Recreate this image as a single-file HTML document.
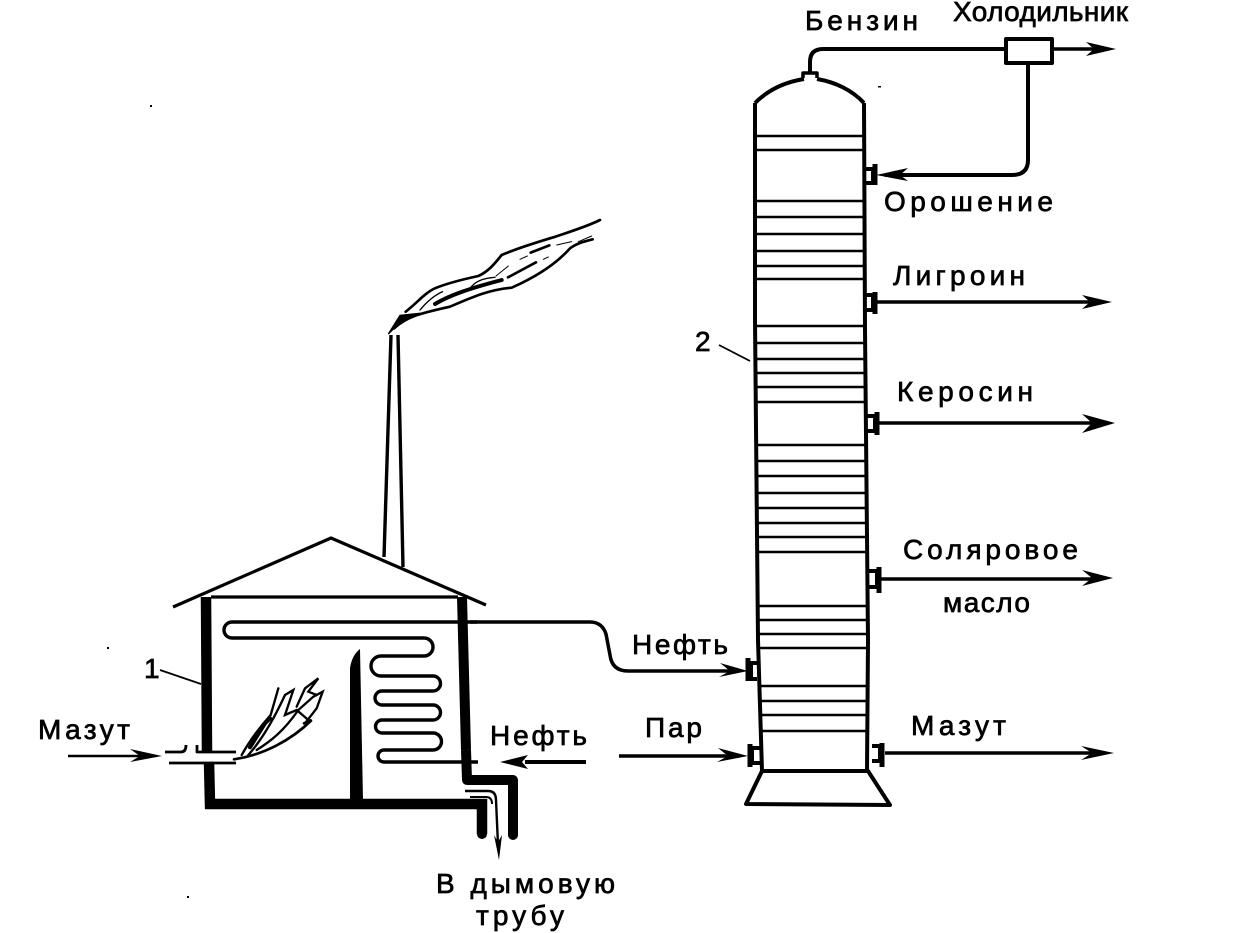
<!DOCTYPE html>
<html lang="ru"><head><meta charset="utf-8"><title>Схема перегонки нефти</title>
<style>
html,body{margin:0;padding:0;background:#fff}
svg{display:block}
text{font-family:"Liberation Sans","DejaVu Sans",sans-serif;font-size:28px;fill:#000;stroke:#000;stroke-width:.7px}
</style></head><body>
<svg width="1239" height="933" viewBox="0 0 1239 933" xmlns="http://www.w3.org/2000/svg">
<rect width="1239" height="933" fill="#fff"/>
<g fill="none" stroke="#000" stroke-linejoin="round">
<!-- Column -->
<path d="M755,103 L755,320 L758,640 L762,771" stroke-width="4"/>
<path d="M864,103 L865,330 L868,640 L867,771" stroke-width="4"/>
<path d="M755,103 C768,90 785,82 804,79 M817,79 C835,82 852,90 864,103" stroke-width="4"/>
<path d="M762,771 L746,804 L890,805 L868,771 Z" stroke-width="4"/>
<path d="M756,136H864M756,150H864M756,201H864M756,217H864M756,234H864M756,251H864M756,266H864M756,279H864M756,326H865M756,343H865M756,359H865M756,373H865M757,387H865M757,402H865M757,445H866M757,461H866M757,476H866M757,493H866M757,508H866M757,523H867M758,537H867M758,552H867M758,606H867M758,620H867M759,634H868M759,648H868M760,686H868M761,701H868M761,715H868M761,731H868" stroke-width="2.600"/>
<!-- Top pipe -->
<path d="M803,78V73H817V78" stroke-width="3.500"/>
<path d="M810,73V62Q810,49 823,49H1005" stroke-width="4"/>
<rect x="1006" y="39" width="46" height="24" stroke-width="4"/>
<path d="M1052,49H1100" stroke-width="3.500"/>
<path d="M1028,63V160Q1028,175 1012,175H885" stroke-width="4"/>
<!-- Outlets -->
<path d="M876,302H1095M878,423H1095M880,579H1095M885,753H1095" stroke-width="3.500"/>
<!-- Flanges -->
<path d="M865,169H873V183H865" stroke-width="4"/><path d="M875,164V185" stroke-width="5"/>
<path d="M866,295H873V310H866" stroke-width="4"/><path d="M875,292V314" stroke-width="5"/>
<path d="M867,416H875V431H867" stroke-width="4"/><path d="M877,412V435" stroke-width="5"/>
<path d="M869,571H877V587H869" stroke-width="4"/><path d="M879,567V593" stroke-width="5"/>
<path d="M872,746H880V761H872" stroke-width="4"/><path d="M882,743V767" stroke-width="5"/>
<path d="M757,663H751V679H757" stroke-width="4"/><path d="M748,658V681" stroke-width="5"/>
<path d="M761,748H752V763H761" stroke-width="4"/><path d="M750,744V767" stroke-width="5"/>
<!-- Inlet pipes -->
<path d="M470,622H590Q602,622 606,634L610,655Q612,671 628,671H735" stroke-width="3.500"/>
<path d="M619,756H735" stroke-width="3.500"/>
<path d="M68,756H140" stroke-width="2.600"/>
<path d="M586,762H525" stroke-width="4"/>
<!-- Leader lines -->
<path d="M719,345L750,361M160,670L201,684" stroke-width="1.800"/>
<!-- Furnace roof -->
<path d="M173,607L331,538L486,605" stroke-width="3.200"/>
<path d="M211,597H458" stroke-width="3.200"/>
<path d="M384,557L391,335M403,567L398,335" stroke-width="3.400"/>
<!-- Coil -->
<path d="M477,622H232A8,8 0 0 0 232,638H424A9,9 0 0 1 424,656H381A10,10 0 0 0 381,676H433A7.500,7.500 0 0 1 433,691H382A7,7 0 0 0 382,705H433A7.500,7.500 0 0 1 433,720H382A6.500,6.500 0 0 0 382,733H433A8.500,8.500 0 0 1 433,750H384A6,6 0 0 0 384,762H478" stroke-width="3.400"/>
<!-- Furnace walls -->
<path d="M206,597L207,752M209,762L210,804H482V834" stroke-width="10.500" stroke-linejoin="miter"/>
<path d="M462,597L466,750" stroke-width="10"/>
<path d="M466,750L467,780H513V835" stroke-width="10"/>
<!-- Flue arrow -->
<path d="M465,791H488Q496,791 496,800L498,845" stroke-width="2.400"/>
<path d="M470,797H486Q492,797 492,804" stroke-width="2"/>
<!-- Burner -->
<path d="M165,752H181Q186,752 186,745M197,745V752H236" stroke-width="2.800"/>
<path d="M169,763H236" stroke-width="2.800"/>
</g>
<!-- Wall gap for burner -->
<rect x="199" y="754" width="16" height="7" fill="#fff"/>
<!-- Partition and rounded pipe ends -->
<path d="M350,800L350,668Q352,655 360,649L363,800Z" fill="#000"/>
<circle cx="482" cy="834" r="5" fill="#000"/><circle cx="513" cy="835" r="5" fill="#000"/>
<!-- Arrowheads -->
<g fill="#000" stroke="none">
<path d="M1116,49L1086,42L1094,49L1086,56Z"/>
<path d="M1112,302L1082,295L1090,302L1082,309Z"/>
<path d="M1115,423L1082,414L1092,423L1082,433Z"/>
<path d="M1113,578L1082,570L1092,578L1082,586Z"/>
<path d="M1114,753L1081,746L1092,753L1081,760Z"/>
<path d="M876,175L908,168L900,175L908,181Z"/>
<path d="M748,671L720,663L730,671L719,677Z"/>
<path d="M748,756L718,748L728,756L717,762Z"/>
<path d="M162,756L130,749L140,756L130,762Z"/>
<path d="M500,762L528,755L522,762L528,769Z"/>
<path d="M499,860L494,835L498,842L502,835Z"/>
<!-- Specks -->
<rect x="150" y="105" width="2" height="2"/><rect x="107" y="647" width="2" height="2"/><rect x="187" y="896" width="2" height="2"/><rect x="878" y="86" width="3" height="1.500"/>
</g>
<!-- Smoke -->
<g transform="translate(370,200) scale(.33333)" fill="none" stroke="#000" stroke-linecap="round">
<path d="M55,402L90,346L150,340L85,372Z" fill="#000" stroke-width="4"/>
<path d="M72,385C110,350 150,340 240,320C300,295 350,270 425,263C500,230 560,190 600,145C620,130 640,125 668,118" stroke-width="8"/>
<path d="M107,335C140,310 165,278 195,265C230,250 270,240 325,228C355,215 375,190 395,165C430,150 490,130 550,112C600,95 650,80 690,60" stroke-width="8"/>
<path d="M195,312C240,285 300,265 395,240" stroke-width="12"/>
<path d="M300,265C315,245 335,235 375,232M150,330C175,300 195,285 218,275" stroke-width="4"/>
<path d="M414,232L498,187M482,158L538,136" stroke-width="8"/>
<path d="M378,228L415,198M450,178L472,168M520,178L535,171M560,135L605,125M625,125L665,108" stroke-width="3"/>
</g>
<!-- Flame -->
<g transform="translate(150,660) scale(.33333)" fill="none" stroke="#000" stroke-linecap="round">
<path d="M252,298C340,285 425,240 485,180L462,190" stroke-width="8"/>
<path d="M275,285C300,240 335,195 362,165L385,85" stroke-width="7"/>
<path d="M295,285C335,240 375,170 405,105L430,90L405,165L440,150L475,180" stroke-width="7"/>
<path d="M320,270C360,245 400,215 445,150L490,110L518,95L500,145L465,190" stroke-width="7"/>
<path d="M440,140L465,85L505,55L475,95L500,105" stroke-width="7"/>
<path d="M300,262L345,190L360,175" stroke-width="12"/>
</g>
<!-- Labels -->
<text x="805" y="30" textLength="113" lengthAdjust="spacing">Бензин</text>
<text x="953" y="21" textLength="175" lengthAdjust="spacing">Холодильник</text>
<text x="884" y="211" textLength="169" lengthAdjust="spacing">Орошение</text>
<text x="893" y="285" textLength="132" lengthAdjust="spacing">Лигроин</text>
<text x="695" y="351" textLength="18" lengthAdjust="spacing">2</text>
<text x="897" y="401" textLength="136" lengthAdjust="spacing">Керосин</text>
<text x="903" y="559" textLength="175" lengthAdjust="spacing">Соляровое</text>
<text x="943" y="612" textLength="87" lengthAdjust="spacing">масло</text>
<text x="632" y="654" textLength="96" lengthAdjust="spacing">Нефть</text>
<text x="645" y="737" textLength="57" lengthAdjust="spacing">Пар</text>
<text x="911" y="735" textLength="95" lengthAdjust="spacing">Мазут</text>
<text x="38" y="739" textLength="92" lengthAdjust="spacing">Мазут</text>
<text x="490" y="745" textLength="97" lengthAdjust="spacing">Нефть</text>
<text x="144" y="678" textLength="12" lengthAdjust="spacing">1</text>
<text x="436" y="893" textLength="179" lengthAdjust="spacing">В дымовую</text>
<text x="476" y="925" textLength="88" lengthAdjust="spacing">трубу</text>
</svg>
</body></html>
